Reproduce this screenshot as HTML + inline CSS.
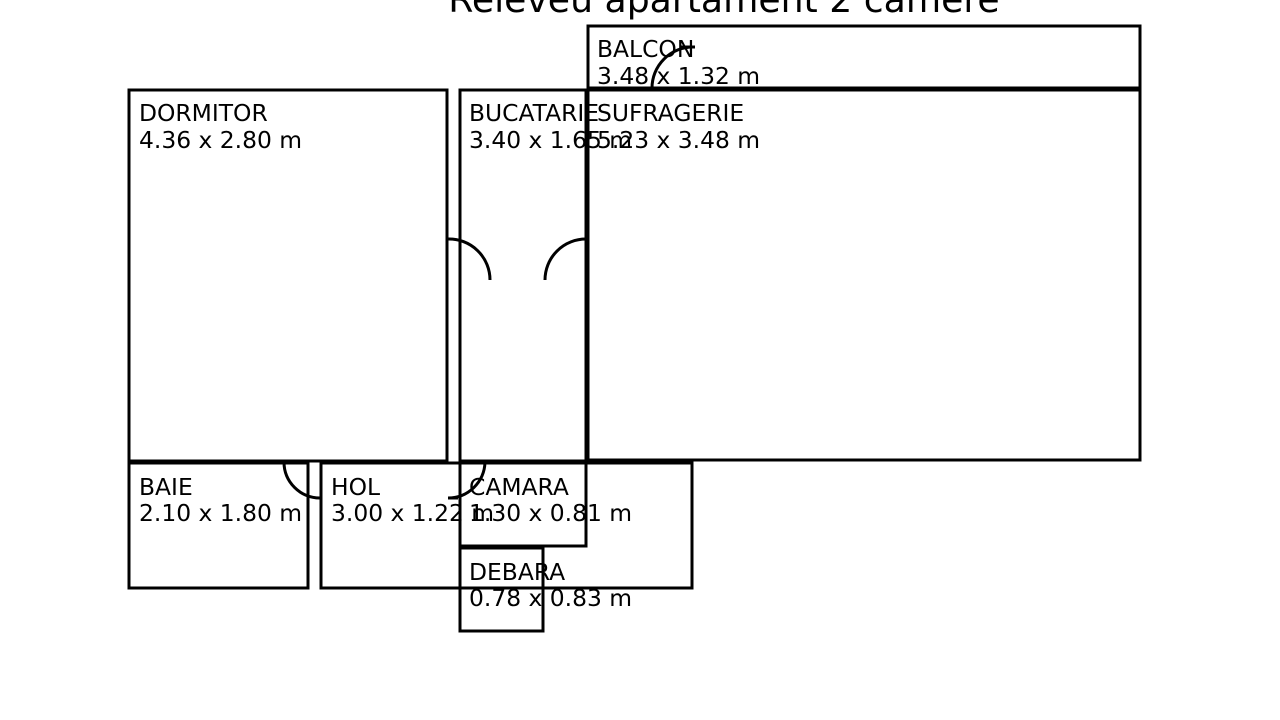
<!DOCTYPE html>
<html><head><meta charset="utf-8"><style>body{margin:0;background:#fff}svg{display:block}</style></head><body>
<svg width="1280" height="720" xmlns="http://www.w3.org/2000/svg" font-family="DejaVu Sans, sans-serif">
<rect width="1280" height="720" fill="#fff"/>
<text x="724" y="12" font-size="36.2" text-anchor="middle">Releveu apartament 2 camere</text>
<g fill="none" stroke="#000" stroke-width="3">
<rect x="588" y="26" width="552" height="62"/>
<rect x="129" y="90" width="318" height="371"/>
<rect x="460" y="90" width="126" height="371"/>
<rect x="588" y="90" width="552" height="370"/>
<rect x="129" y="463" width="179" height="125"/>
<rect x="321" y="463" width="371" height="125"/>
<rect x="460" y="463" width="126" height="83"/>
<rect x="460" y="548" width="83" height="83"/>
<path d="M448 239 A41 41 0 0 1 490 280"/>
<path d="M545 280 A41 41 0 0 1 586 239"/>
<path d="M652 88 A41 41 0 0 1 693 47 M680 47 H695"/>
<path d="M284 462 A36 36 0 0 0 320 498"/>
<path d="M448 498 A37 37 0 0 0 485 462 M448 498 H458"/>
</g>
<g font-size="23.4">
<text x="597" y="57">BALCON</text><text x="597" y="84">3.48 x 1.32 m</text>
<text x="139" y="121">DORMITOR</text><text x="139" y="148">4.36 x 2.80 m</text>
<text x="469" y="121">BUCATARIE</text><text x="469" y="148">3.40 x 1.65 m</text>
<text x="597" y="121">SUFRAGERIE</text><text x="597" y="148">5.23 x 3.48 m</text>
<text x="139" y="495">BAIE</text><text x="139" y="521">2.10 x 1.80 m</text>
<text x="331" y="495">HOL</text><text x="331" y="521">3.00 x 1.22 m</text>
<text x="469" y="495">CAMARA</text><text x="469" y="521">1.30 x 0.81 m</text>
<text x="469" y="580">DEBARA</text><text x="469" y="606">0.78 x 0.83 m</text>
</g>
</svg>
</body></html>
